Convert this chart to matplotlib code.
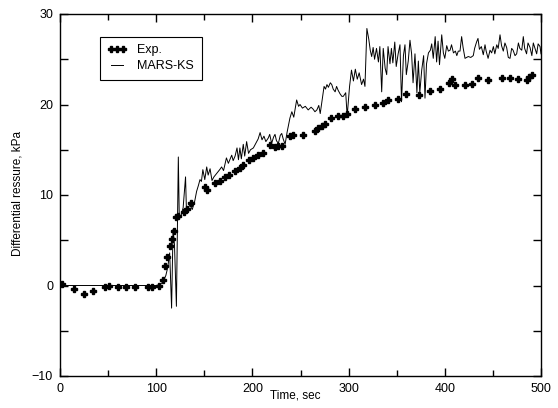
import matplotlib
matplotlib.use("Agg")
import matplotlib.pyplot as plt
from matplotlib.ticker import MultipleLocator

exp_t = [2, 14.5, 25, 34, 47, 51, 60, 68.5, 78, 91, 96, 103, 107, 109, 111, 114,
         116, 118.5, 121, 123, 129, 131.5, 136, 150.5, 153, 161, 166, 171.5, 176,
         182, 187, 190.5, 196, 201, 206, 211, 218, 223.5, 227, 230.5, 239, 242.5,
         253, 265, 268.5, 272, 275.5, 282, 289, 294, 298.5, 306.5, 317, 327.5, 336,
         341, 351.5, 360, 373.5, 384.5, 395.5, 404.5, 408, 410.5, 421, 428, 435,
         445, 459, 468, 476.5, 485, 488, 491]
exp_p = [0.15, -0.4, -0.95, -0.6, -0.2, -0.1, -0.2, -0.2, -0.2, -0.2, -0.2, 0.0,
         0.6, 2.1, 3.1, 4.4, 5.1, 6.0, 7.6, 7.7, 8.1, 8.4, 9.1, 10.9, 10.6, 11.3,
         11.6, 12.0, 12.2, 12.6, 13.0, 13.3, 13.9, 14.1, 14.4, 14.6, 15.5, 15.3,
         15.4, 15.4, 16.5, 16.6, 16.6, 17.1, 17.4, 17.6, 17.9, 18.5, 18.75, 18.75,
         18.9, 19.5, 19.7, 20.0, 20.2, 20.5, 20.6, 21.2, 21.1, 21.5, 21.7, 22.4,
         22.8, 22.2, 22.1, 22.3, 22.9, 22.7, 22.9, 22.9, 22.8, 22.7, 23.0, 23.3]

# Resultados MARS-KS
mars_t = [0, 20, 50, 80, 100, 104, 107, 110, 112, 114, 116, 117.5, 119, 121, 123,
          124, 126, 128, 130.5, 131.5, 133, 135, 137.5, 140, 142, 144, 145.5, 147,
          148.5, 150.5, 152.5, 154, 156, 158, 160, 163, 166, 168, 170, 173, 175,
          178.5, 180, 182, 184, 185.5, 187, 188.5, 190.5, 192, 194, 196, 198, 201,
          204, 206, 208, 210, 212, 214, 216.5, 218, 220, 222, 223.5, 225, 227, 229,
          230.5, 232, 234, 236, 239, 241, 243, 246, 248, 249.5, 252, 255, 258, 261,
          263, 265, 267, 269, 270.5, 272, 274.5, 276, 277.5, 279, 281, 282.5, 284,
          286, 287.5, 289, 291, 293, 294.5, 297, 298.5, 301, 303, 305, 307, 309,
          311, 313.5, 315.5, 317, 319, 321, 322.5, 324, 325.5, 327, 329, 331, 332.5,
          334.4, 336, 338, 339.6, 341, 343, 344.5, 346, 348, 349.5, 351.5, 353.4,
          355, 357, 358.6, 360, 362, 363.8, 365.5, 367, 369, 371, 372.5, 374, 376,
          378, 379.4, 381, 383, 385, 386.4, 388, 390, 391.5, 393, 394.5, 396.8,
          398.5, 400, 402, 403.7, 405.5, 407, 409, 411, 412.5, 414, 415.8, 417.5,
          419, 421, 424.4, 427, 429.6, 431, 433, 434.5, 436, 438, 440, 441.8, 443,
          445, 447, 448.7, 450.5, 452, 454, 455.5, 457.4, 459, 460.8, 462.5, 464.3,
          466, 467.8, 469.5, 471, 473, 474.7, 476.5, 478, 480, 481.6, 483, 485,
          486.5, 488.6, 490.5, 492, 494, 495.5, 497, 499, 500]
mars_p = [0, 0, 0, 0, 0, 0.1, 0.4, 1.1, 2.0, 3.6, -2.5, 6.2, 4.5, -2.3, 14.2,
          7.4, 7.8, 8.6, 12.0, 8.0, 8.5, 8.9, 8.4, 9.3, 10.4, 11.1, 11.7, 11.5,
          12.8, 11.7, 13.1, 12.2, 12.9, 11.6, 12.0, 12.4, 12.8, 13.1, 12.7, 14.1,
          13.5, 14.4, 13.8, 14.3, 15.2, 13.9, 15.2, 14.0, 15.6, 14.3, 15.9, 14.6,
          15.0, 15.2, 15.8, 16.2, 16.9, 16.1, 16.5, 15.9, 16.3, 16.7, 15.7, 16.4,
          16.7, 16.0, 15.7, 16.6, 16.8, 16.2, 15.6, 16.9, 18.5, 19.2, 18.6, 20.5,
          19.8, 20.0, 19.6, 19.8, 19.4, 19.7, 19.5, 19.2, 19.4, 19.9, 19.0, 20.1,
          22.0, 21.7, 22.2, 21.9, 22.4, 22.2, 21.7, 21.4, 22.0, 21.6, 21.2, 20.9,
          20.9, 21.3, 18.7, 22.0, 23.8, 22.6, 23.9, 22.8, 23.5, 22.2, 22.8, 22.0,
          28.4, 27.2, 26.0, 25.3, 26.3, 25.0, 26.2, 24.7, 26.4, 21.4, 26.2, 24.0,
          23.3, 26.4, 24.5, 26.2, 24.6, 26.9, 24.2, 25.6, 26.6, 20.3, 25.4, 26.6,
          23.3, 24.8, 27.1, 25.6, 22.4, 25.6, 21.3, 24.8, 21.3, 23.8, 25.4, 20.7,
          24.5, 25.7, 26.0, 26.7, 25.1, 27.5, 24.7, 27.0, 24.4, 27.7, 25.7, 25.1,
          26.5, 25.9, 26.0, 26.6, 25.7, 25.9, 25.4, 25.9, 25.9, 27.5, 26.3, 25.1,
          25.3, 25.2, 25.4, 26.2, 26.9, 27.3, 26.1, 26.4, 25.5, 26.6, 25.9, 25.1,
          26.0, 25.7, 26.4, 25.6, 26.6, 26.2, 27.7, 26.5, 25.9, 26.8, 26.3, 25.2,
          25.1, 26.2, 26.0, 25.4, 25.6, 26.8, 26.2, 26.0, 27.5, 26.2, 25.6, 26.8,
          26.3, 25.4, 26.8, 26.1, 25.6, 26.7, 26.4, 25.6]

x_ticks = [0, 100, 200, 300, 400, 500]
y_ticks = [-10, 0, 10, 20, 30]

plt.rcParams['font.family'] = ['Liberation Sans', 'DejaVu Sans']

fig = plt.figure(figsize=(5.58, 4.08), dpi=100)
ax = fig.add_axes([60 / 558, 1 - 376 / 408, 481 / 558, 362 / 408])

ax.plot(mars_t, mars_p, color='black', linewidth=0.7, label='MARS-KS', zorder=2)
ax.plot(exp_t, exp_p, linestyle='none', marker='P', markersize=4.6,
        color='black', label='Exp.', zorder=3)

ax.set_xlim(0, 500)
ax.set_ylim(-10, 30)
ax.set_xticks(x_ticks)
ax.set_yticks(y_ticks)
ax.xaxis.set_minor_locator(MultipleLocator(50))
ax.yaxis.set_minor_locator(MultipleLocator(5))
ax.tick_params(which='both', direction='in', top=True, right=True,
               labelsize=9, width=1.0, pad=5)
ax.tick_params(axis='x', which='major', length=6)
ax.tick_params(axis='x', which='minor', length=4)
ax.tick_params(axis='y', which='both', length=5.5)
for s in ax.spines.values():
    s.set_linewidth(1.0)

handles, labels = ax.get_legend_handles_labels()
leg = ax.legend(handles[::-1], labels[::-1], loc='upper left',
                bbox_to_anchor=(40 / 481, (376 - 37) / 362), borderaxespad=0,
                fontsize=9, numpoints=3, handlelength=1.5, handletextpad=0.9,
                labelspacing=0.3, borderpad=0.6, fancybox=False, framealpha=1)
leg.get_frame().set_edgecolor('black')
leg.get_frame().set_linewidth(0.8)

fig.text(18 / 558, 1 - 193 / 408, 'Differential ressure, kPa', rotation=90,
         ha='center', va='center', fontsize=8.5)
fig.text(295 / 558, 1 - 390 / 408, 'Time, sec', ha='center', va='top',
         fontsize=8.5)

fig.savefig('out.png', dpi=100)
